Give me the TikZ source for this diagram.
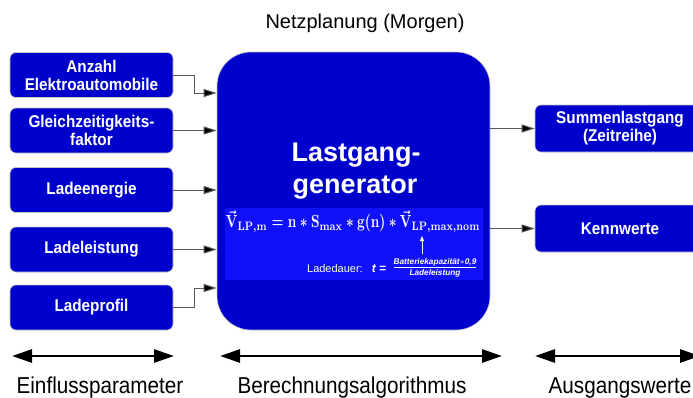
\documentclass[tikz,border=0pt]{standalone}
\usepackage[no-math]{fontspec}
\setmainfont{Liberation Sans}
\newfontfamily\condsans[FakeStretch=0.9]{Liberation Sans}
\usetikzlibrary{arrows.meta}
\definecolor{boxblue}{RGB}{0,0,204}
\definecolor{innerblue}{RGB}{16,16,250}
\definecolor{connline}{RGB}{90,90,90}
\tikzset{
  inbox/.style={draw=gray!45, line width=0.6pt, fill=boxblue, rounded corners=6pt,
    minimum width=163pt, minimum height=45pt, text=white, align=center,
    font=\condsans\bfseries\fontsize{17}{18}\selectfont, inner sep=0pt},
  outbox/.style={inbox, minimum width=170pt, minimum height=47pt},
  conn/.style={draw=connline, line width=1pt, -{Triangle[length=13pt,width=8pt,fill=black]}},
  span/.style={line width=2.8pt, {Triangle[length=20pt,width=13pt]}-{Triangle[length=20pt,width=13pt]}},
  lbl/.style={font=\condsans\fontsize{23}{26}\selectfont, anchor=base, inner sep=0pt}
}
\begin{document}
\begin{tikzpicture}[x=1pt,y=-1pt]
\clip (0,0) rectangle (693,397);
\fill[white] (0,0) rectangle (693,397);
% title
\node[font=\fontsize{20}{22}\selectfont, anchor=base, inner sep=0pt] (title) at (365,28) {Netzplanung (Morgen)};
% main generator box
\node[draw=gray!45, line width=0.6pt, fill=boxblue, rounded corners=34pt, minimum width=273pt, minimum height=278pt, inner sep=0pt] (gen) at (353.5,191) {};
\node[fill=innerblue, minimum width=258pt, minimum height=72pt, inner sep=0pt] (inner) at (354,244) {};
\node[text=white, font=\bfseries\fontsize{27}{32}\selectfont, anchor=base, inner sep=0pt] (t1) at (356,161) {Lastgang-};
\node[text=white, font=\bfseries\fontsize{27}{32}\selectfont, anchor=base, inner sep=0pt] (t2) at (355,193) {generator};
\node[text=white, anchor=center, inner sep=0pt] (formula) at (353,222)
  {\resizebox*{254pt}{22pt}{\boldmath$\vec{\mathrm{V}}_{\mathrm{LP,m}} = \mathrm{n} \ast \mathrm{S}_{\mathrm{max}} \ast \mathrm{g(n)} \ast \vec{\mathrm{V}}_{\mathrm{LP,max,nom}}$}};
\coordinate (upA) at (422,254);
\coordinate (upB) at (422,236);
\draw[white, line width=1pt, -{Triangle[length=5pt,width=4pt]}] (upA) -- (upB);
\node[text=white, font=\fontsize{11}{12}\selectfont, anchor=base east, inner sep=0pt] (ladedauer) at (363,272) {Ladedauer:};
\node[text=white, font=\bfseries\itshape\fontsize{12}{12}\selectfont, anchor=base, inner sep=0pt] (teq) at (379,272) {t =};
\node[text=white, anchor=center, inner sep=0pt] (frac) at (435,268)
  {\resizebox{86pt}{!}{$\frac{\textit{\bfseries\fontsize{6}{6}\selectfont Batteriekapazität$\ast$0,9}}{\textit{\bfseries\fontsize{6}{6}\selectfont Ladeleistung}}$}};
% input boxes
\node[inbox] (l1) at (91.5,75) {Anzahl\\Elektroautomobile};
\node[inbox] (l2) at (91.5,130.5) {Gleichzeitigkeits-\\faktor};
\node[inbox] (l3) at (91.5,190) {Ladeenergie};
\node[inbox] (l4) at (91.5,249.5) {Ladeleistung};
\node[inbox] (l5) at (91.5,307.5) {Ladeprofil};
% output boxes
\node[outbox] (r1) at (620,128.5) {Summenlastgang\\(Zeitreihe)};
\node[outbox] (r2) at (620,228.5) {Kennwerte};
% input connectors
\coordinate (g1) at (gen.west |- 0,93);
\coordinate (g5) at (gen.west |- 0,288);
\draw[conn] (l1.east) -- (194,75) |- (g1);
\draw[conn] (l2.east) -- (l2.east -| gen.west);
\draw[conn] (l3.east) -- (l3.east -| gen.west);
\draw[conn] (l4.east) -- (l4.east -| gen.west);
\draw[conn] (l5.east) -- (194,307.5) |- (g5);
% output connectors
\draw[conn] (r1.west -| gen.east) -- (r1.west);
\draw[conn] (r2.west -| gen.east) -- (r2.west);
% bottom spans
\coordinate (a1) at (12,356);  \coordinate (b1) at (174,356);
\coordinate (a2) at (220,356); \coordinate (b2) at (502,356);
\coordinate (a3) at (535,356); \coordinate (b3) at (700,356);
\draw[span] (a1) -- (b1);
\draw[span] (a2) -- (b2);
\draw[span] (a3) -- (b3);
\node[lbl] (e1) at (100,393) {Einflussparameter};
\node[lbl] (e2) at (352,393) {Berechnungsalgorithmus};
\node[lbl] (e3) at (620,393) {Ausgangswerte};
\end{tikzpicture}
\end{document}
